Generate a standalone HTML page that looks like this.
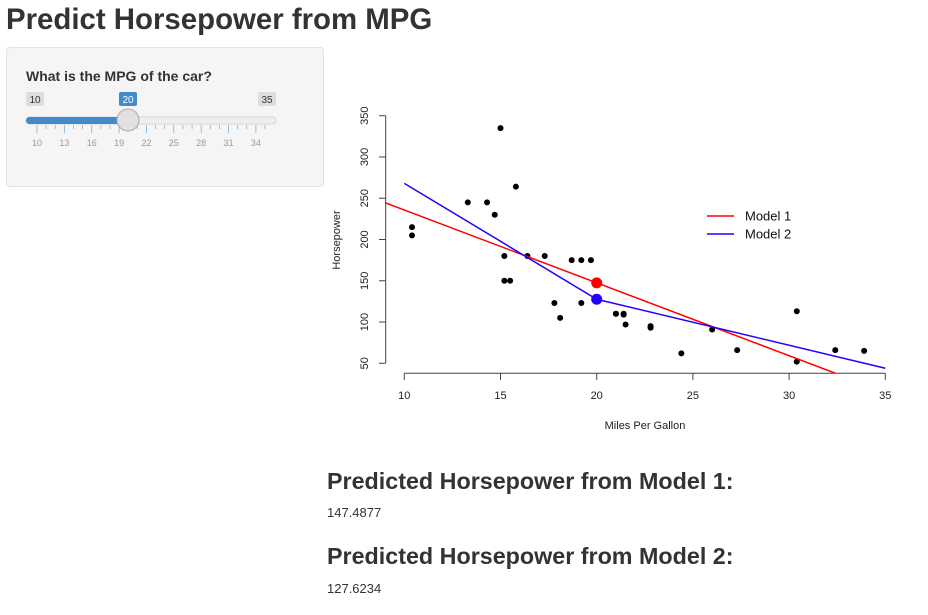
<!DOCTYPE html>
<html><head><meta charset="utf-8">
<style>
body{margin:0;width:928px;height:615px;background:#fff;font-family:"Liberation Sans",sans-serif;color:#333;position:relative;overflow:hidden}
.abs{position:absolute;white-space:nowrap}
</style></head>
<body>
<div class="abs" style="left:6px;top:3px;font-size:29.4px;font-weight:bold;line-height:34px">Predict Horsepower from MPG</div>
<div class="abs" style="left:6px;top:47px;width:316px;height:138px;background:#f5f5f5;border:1px solid #e3e3e3;border-radius:4px"></div>
<div class="abs" style="left:26px;top:68px;font-size:14px;font-weight:bold">What is the MPG of the car?</div>
<svg class="abs" style="left:0;top:0" width="330" height="190">
<rect x="26" y="92" width="18" height="14" rx="2" fill="#ddd"/>
<text x="35" y="103" font-size="10" text-anchor="middle" fill="#333" font-family="Liberation Sans">10</text>
<rect x="258" y="92" width="18" height="14" rx="2" fill="#ddd"/>
<text x="267" y="103" font-size="10" text-anchor="middle" fill="#333" font-family="Liberation Sans">35</text>
<rect x="119" y="92" width="18" height="14" rx="2" fill="#428bca"/>
<text x="128" y="103" font-size="10" text-anchor="middle" fill="#fff" font-family="Liberation Sans">20</text>
<rect x="26" y="117" width="250" height="7" rx="3.5" fill="#eee" stroke="#ccc" stroke-width="0.7"/>
<rect x="26" y="117" width="102" height="7" rx="3.5" fill="#428bca"/>
<g id="sticks"></g>
<circle cx="128" cy="120" r="11" fill="#e0e0e0" stroke="#aaa" stroke-width="1"/>
</svg>
<svg class="abs" style="left:0;top:0" width="928" height="440" id="chart" font-family="Liberation Sans">
<defs><clipPath id="pc"><rect x="385" y="105" width="520" height="268"/></clipPath></defs>
</svg>
<div class="abs" style="left:327px;top:466px;font-size:23.3px;font-weight:bold;line-height:30px">Predicted Horsepower from Model 1:</div>
<div class="abs" style="left:327px;top:505px;font-size:13px">147.4877</div>
<div class="abs" style="left:327px;top:541px;font-size:23.3px;font-weight:bold;line-height:30px">Predicted Horsepower from Model 2:</div>
<div class="abs" style="left:327px;top:581px;font-size:13px">127.6234</div>
<script>
const mpg=[21,21,22.8,21.4,18.7,18.1,14.3,24.4,22.8,19.2,17.8,16.4,17.3,15.2,10.4,10.4,14.7,32.4,30.4,33.9,21.5,15.5,15.2,13.3,19.2,27.3,26,30.4,15.8,19.7,15,21.4];
const hp=[110,110,93,110,175,105,245,62,95,123,123,180,180,180,205,215,230,66,52,65,97,150,150,245,175,66,91,113,264,175,335,109];
const xTicks=[10,15,20,25,30,35];
const yTicks=[50,100,150,200,250,300,350];
const model1=[324.08,-8.83]; // intercept, slope
const model2X=[10,20,35];
const model2Y=[268,127.6234,44];
const selMpg=20;
const pred1=147.4877, pred2=127.6234;
const sliderTicks=[10,13,16,19,22,25,28,31,34];

const NS="http://www.w3.org/2000/svg";
const X=v=>404.3+(v-10)*19.24;
const Y=v=>363.3-(v-50)*0.8253;
const svg=document.getElementById('chart');
function mk(tag,attrs,parent){const e=document.createElementNS(NS,tag);for(const k in attrs)e.setAttribute(k,attrs[k]);(parent||svg).appendChild(e);return e;}

let ax=mk('line',{x1:X(10),x2:X(35),y1:373.3,y2:373.3,stroke:'#444'});


xTicks.forEach(t=>{
  let l=mk('line',{x1:X(t),x2:X(t),y1:373.3,y2:380,stroke:'#444'});
  
  
  let tx=mk('text',{x:X(t),y:399,'font-size':11,'text-anchor':'middle',fill:'#222'});tx.textContent=t;
  
  
});
let ay=mk('line',{x1:385.7,x2:385.7,y1:Y(50),y2:Y(350),stroke:'#444'});


yTicks.forEach(t=>{
  let l=mk('line',{x1:379,x2:385.7,y1:Y(t),y2:Y(t),stroke:'#444'});
  
  
  let tx=mk('text',{x:0,y:0,'font-size':11,'text-anchor':'middle',fill:'#222',transform:`translate(368,${Y(t)}) rotate(-90)`});tx.textContent=t;
  
  
});
let xt=mk('text',{x:645,y:429,'font-size':11,'text-anchor':'middle',fill:'#222'});xt.textContent='Miles Per Gallon';


let yt=mk('text',{x:0,y:0,'font-size':11,'text-anchor':'middle',fill:'#222',transform:'translate(340,240) rotate(-90)'});yt.textContent='Horsepower';



mpg.forEach((m,i)=>{
  let c=mk('circle',{cx:X(m),cy:Y(hp[i]),r:3,fill:'#000'});
  
  
});
const g=mk('g',{'clip-path':'url(#pc)'});
let l1=mk('line',{x1:X(8),y1:Y(model1[0]+model1[1]*8),x2:X(37),y2:Y(model1[0]+model1[1]*37),stroke:'#ff0000','stroke-width':1.5},g);


let l2=mk('polyline',{points:model2X.map((x,i)=>X(x)+','+Y(model2Y[i])).join(' '),fill:'none',stroke:'#2200ff','stroke-width':1.5},g);


let p1=mk('circle',{cx:X(selMpg),cy:Y(pred1),r:5.5,fill:'#ff0000'});


let p2=mk('circle',{cx:X(selMpg),cy:Y(pred2),r:5.5,fill:'#2200ff'});


[['Model 1','#ff0000',216],['Model 2','#2200ff',234]].forEach(([n,c,y])=>{
  let l=mk('line',{x1:707,x2:734,y1:y,y2:y,stroke:c,'stroke-width':1.5});
  
  
  let t=mk('text',{x:745,y:y+4.5,'font-size':13,fill:'#111'});t.textContent=n;
  
  
});

const st=document.getElementById('sticks');
const SX=v=>37+(v-10)*9.12;
for(let v=10;v<=35;v++){
  const major=sliderTicks.includes(v);
  let l=mk('line',{x1:SX(v),x2:SX(v),y1:125,y2:major?133:129,stroke:major?'#7fb1dd':'#aaa','stroke-width':0.8},st);
  
  
}
sliderTicks.forEach(v=>{
  let t=mk('text',{x:SX(v),y:146,'font-size':9,'text-anchor':'middle',fill:'#999','font-family':'Liberation Sans'},st);t.textContent=v;
  
  
});
</script>
</body></html>
